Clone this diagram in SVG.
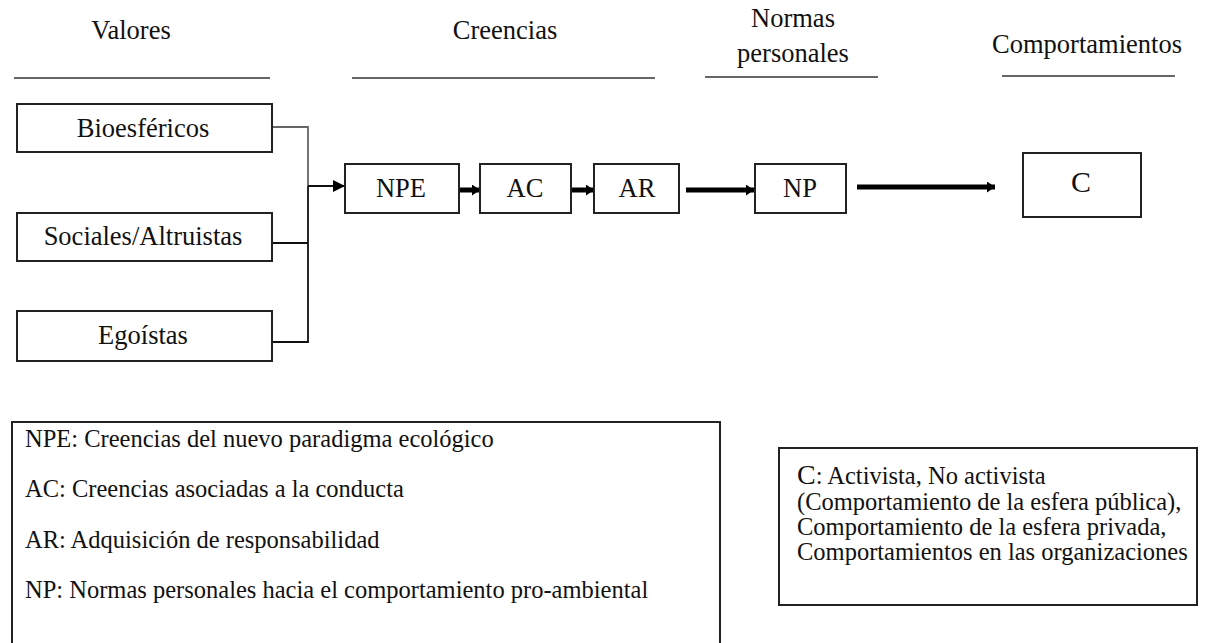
<svg xmlns="http://www.w3.org/2000/svg" width="1210" height="643" viewBox="0 0 1210 643" font-family="'Liberation Serif', Tinos, 'Times New Roman', 'DejaVu Serif', serif">
<style>
text{font-family:'Liberation Serif', Tinos, 'Times New Roman', 'DejaVu Serif', serif;fill:#111}
.h{font-size:26.5px;text-anchor:middle}
.n{font-size:26.5px;text-anchor:middle}
.lg{font-size:24.5px}
.box{fill:#fff;stroke:#222;stroke-width:2}
.rule{stroke:#333;stroke-width:1.6}
.thin{fill:none;stroke:#111;stroke-width:1.8}
.thick{fill:none;stroke:#000;stroke-width:5}
</style>
<defs>
<marker id="ah" markerUnits="userSpaceOnUse" markerWidth="12" markerHeight="12" refX="12" refY="6" orient="auto"><path d="M0,0 L12,6 L0,12 Z" fill="#000"/></marker>
<marker id="ahT" markerUnits="userSpaceOnUse" markerWidth="8" markerHeight="11" refX="8" refY="5.5" orient="auto"><path d="M0,0 L8,5.5 L0,11 Z" fill="#000"/></marker>
</defs>
<g id="headers">
<text class="h" x="131" y="39">Valores</text>
<line class="rule" x1="14" y1="78" x2="270" y2="78"/>
<text class="h" x="505" y="39">Creencias</text>
<line class="rule" x1="352" y1="78" x2="655" y2="78"/>
<text class="h" x="793" y="27">Normas</text>
<text class="h" x="793" y="62">personales</text>
<line class="rule" x1="705" y1="77" x2="878" y2="77"/>
<text class="h" x="1087" y="53">Comportamientos</text>
<line class="rule" x1="1002" y1="76" x2="1175" y2="76"/>
</g>
<g id="connectors">
<polyline class="thin" points="272,127 308,127 308,186" style="stroke:#666"/>
<polyline class="thin" points="272,243 308,243"/>
<polyline class="thin" points="272,342 308,342 308,186"/>
<line class="thin" x1="308" y1="186" x2="345" y2="186" marker-end="url(#ah)"/>
<line class="thick" x1="459" y1="190" x2="480" y2="190" marker-end="url(#ahT)"/>
<line class="thick" x1="571" y1="190" x2="594" y2="190" marker-end="url(#ahT)"/>
<line class="thick" x1="686" y1="190" x2="754" y2="190" marker-end="url(#ahT)"/>
<line class="thick" x1="857" y1="187" x2="995" y2="187" marker-end="url(#ahT)"/>
</g>
<g id="bio"><rect class="box" x="17" y="104" width="255" height="48"/><text class="n" x="143" y="137">Bioesféricos</text></g>
<g id="soc"><rect class="box" x="17" y="213" width="255" height="48"/><text class="n" x="143" y="245">Sociales/Altruistas</text></g>
<g id="ego"><rect class="box" x="17" y="311" width="255" height="50"/><text class="n" x="143" y="344">Egoístas</text></g>
<g id="npe"><rect class="box" x="345" y="164" width="114" height="49"/><text class="n" x="401" y="197">NPE</text></g>
<g id="ac"><rect class="box" x="480" y="164" width="91" height="49"/><text class="n" x="525" y="197">AC</text></g>
<g id="ar"><rect class="box" x="594" y="164" width="85" height="49"/><text class="n" x="637" y="197">AR</text></g>
<g id="np"><rect class="box" x="755" y="164" width="91" height="49"/><text class="n" x="800" y="197">NP</text></g>
<g id="c"><rect class="box" x="1023" y="153" width="118" height="64"/><text class="n" x="1081" y="192" style="font-size:30px">C</text></g>
<g id="legend1">
<rect class="box" x="12" y="422" width="708" height="230"/>
<text class="lg" x="25" y="447">NPE: Creencias del nuevo paradigma ecológico</text>
<text class="lg" x="25" y="497">AC: Creencias asociadas a la conducta</text>
<text class="lg" x="25" y="548">AR: Adquisición de responsabilidad</text>
<text class="lg" x="25" y="598">NP: Normas personales hacia el comportamiento pro-ambiental</text>
</g>
<g id="legend2">
<rect class="box" x="779" y="448" width="418" height="157"/>
<text class="lg" x="797" y="484"><tspan style="font-size:28px">C</tspan>: Activista, No activista</text>
<text class="lg" x="797" y="510">(Comportamiento de la esfera pública),</text>
<text class="lg" x="797" y="535">Comportamiento de la esfera privada,</text>
<text class="lg" x="797" y="560">Comportamientos en las organizaciones</text>
</g>
</svg>
